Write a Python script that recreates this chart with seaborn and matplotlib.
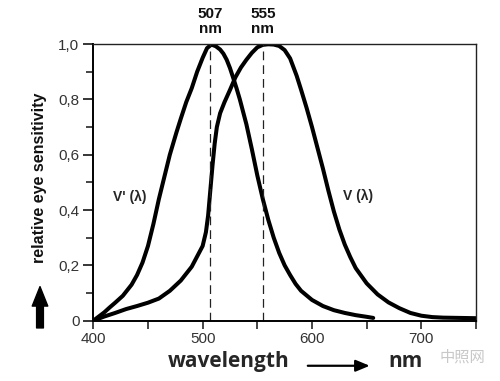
import matplotlib
matplotlib.use("Agg")
import matplotlib.pyplot as plt
from matplotlib.ticker import MultipleLocator, FuncFormatter
import seaborn as sns
import pandas as pd

# scotopic curve V'(lambda)
wl_scot = [400, 405, 410, 415, 420, 427, 435, 440, 445, 450, 455, 460, 465, 470, 476, 480, 485,
           490, 495, 500, 504, 508, 512, 516, 519, 522, 525, 528, 531, 534, 537, 540, 545,
           550, 555, 560, 565, 570, 575, 580, 585, 590, 600, 610, 620, 630, 640, 650, 656]
v_scot = [0.0, 0.015, 0.03, 0.048, 0.065, 0.09, 0.13, 0.165, 0.21, 0.27, 0.35, 0.44, 0.52, 0.6, 0.68, 0.73, 0.79,
          0.84, 0.9, 0.95, 0.985, 0.998, 0.992, 0.98, 0.965, 0.943, 0.913, 0.877, 0.84, 0.8, 0.755, 0.71, 0.62,
          0.525, 0.44, 0.365, 0.3, 0.245, 0.2, 0.165, 0.133, 0.108, 0.075, 0.053, 0.038, 0.028, 0.02, 0.014, 0.01]

# photopic curve V(lambda)
wl_phot = [400, 410, 420, 430, 440, 450, 460, 470, 480, 490, 500, 503, 505, 507, 509, 511, 513, 516,
           520, 525, 530, 535, 540, 545, 550, 555, 560, 565, 570, 575, 580, 586, 590, 595, 600,
           605, 610, 615, 620, 625, 630, 635, 640, 650, 660, 670, 680, 690, 700, 710, 720, 735, 750]
v_phot = [0.0, 0.015, 0.028, 0.042, 0.053, 0.065, 0.08, 0.108, 0.145, 0.195, 0.27, 0.32, 0.38, 0.47, 0.56, 0.64, 0.7, 0.75,
          0.79, 0.834, 0.88, 0.915, 0.943, 0.968, 0.988, 0.997, 0.999, 0.998, 0.993, 0.978, 0.948, 0.885, 0.835, 0.77, 0.7,
          0.625, 0.55, 0.47, 0.395, 0.33, 0.275, 0.23, 0.19, 0.135, 0.095, 0.066, 0.045, 0.028, 0.018, 0.013, 0.011, 0.01, 0.009]

peaks = [507, 555]
x_ticks = [400, 500, 600, 700]
y_ticks = [0, 0.2, 0.4, 0.6, 0.8, 1.0]

sns.set_style("white")
plt.rcParams['font.family'] = ['Liberation Sans', 'DejaVu Sans', 'Noto Sans CJK SC']

df_scot = pd.DataFrame({"wl": wl_scot, "v": v_scot})
df_phot = pd.DataFrame({"wl": wl_phot, "v": v_phot})

fig = plt.figure(figsize=(5, 3.81), dpi=100)
ax = fig.add_axes([0.1866, 0.1583, 0.7654, 0.7262])

for d in [df_scot, df_phot]:
    sns.lineplot(data=d, x="wl", y="v", ax=ax, color="black", linewidth=2.9, sort=False,
                 solid_joinstyle="round", solid_capstyle="round")

for p in peaks:
    ax.plot([p, p], [0, 1.0], color="#222222", linewidth=0.9, linestyle=(0, (7, 4)))
    ax.text(p, 1.03, f"{p}\nnm", ha="center", va="bottom", fontsize=11,
            fontweight="bold", linespacing=1.05, color="#111111")

ax.text(433, 0.447, "V' (λ)", ha="center", va="center", fontsize=10, fontweight="bold")
ax.text(642, 0.45, "V (λ)", ha="center", va="center", fontsize=10, fontweight="bold")

ax.set_xlim(400, 750)
ax.set_ylim(0, 1.0)
ax.set_xticks(x_ticks)
ax.set_yticks(y_ticks)
ax.xaxis.set_minor_locator(MultipleLocator(50))
ax.yaxis.set_minor_locator(MultipleLocator(0.1))
ax.yaxis.set_major_formatter(FuncFormatter(lambda v, _: "0" if v == 0 else f"{v:.1f}".replace(".", ",")))
ax.tick_params(axis="y", which="major", direction="out", length=7, width=1.3, labelsize=11,
               labelcolor="#333333", pad=3, left=True)
ax.tick_params(axis="y", which="minor", direction="out", length=5, width=1.2, left=True)
ax.tick_params(axis="x", which="both", direction="out", length=5.5, width=1.2, labelsize=11,
               labelcolor="#333333", pad=3, bottom=True)
ax.set_xlabel("")
ax.set_ylabel("")

for side in ["left", "bottom"]:
    ax.spines[side].set_linewidth(1.4)
    ax.spines[side].set_color("black")
for side in ["top", "right"]:
    ax.spines[side].set_linewidth(1.0)
    ax.spines[side].set_color("#222222")

fig.text(0.08, 0.534, "relative eye sensitivity", rotation=90, ha="center", va="center",
         fontsize=11.5, fontweight="bold", color="#111111")
fig.add_artist(matplotlib.patches.FancyArrowPatch((0.08, 0.132), (0.08, 0.255),
               transform=fig.transFigure, arrowstyle="simple,head_width=0.8,head_length=1.0,tail_width=0.35",
               mutation_scale=14, color="black"))

fig.text(0.458, 0.05, "wavelength", ha="center", va="center", fontsize=15, fontweight="bold",
         family=["Open Sans", "DejaVu Sans"])
fig.add_artist(matplotlib.patches.FancyArrowPatch((0.61, 0.04), (0.745, 0.04),
               transform=fig.transFigure, arrowstyle="-|>,head_width=0.25,head_length=0.6",
               mutation_scale=14, color="black", linewidth=1.6))
fig.text(0.81, 0.05, "nm", ha="center", va="center", fontsize=15, fontweight="bold",
         family=["Open Sans", "DejaVu Sans"])
fig.text(0.925, 0.063, "中照网", ha="center", va="center", fontsize=11, color="#c8c8c8",
         family=["Noto Sans CJK SC", "DejaVu Sans"])

fig.savefig("out.png", dpi=100, facecolor="white")
